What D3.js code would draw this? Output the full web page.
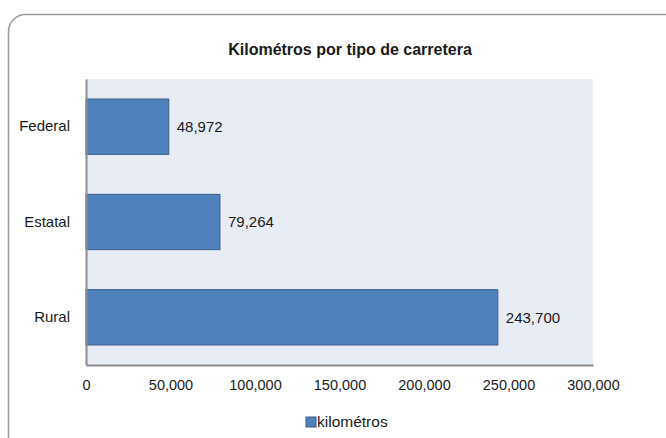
<!DOCTYPE html>
<html>
<head>
<meta charset="utf-8">
<script src="https://cdn.jsdelivr.net/npm/d3@7"></script>
<style>
  body { margin: 0; background: #fff; }
  text { font-family: "Liberation Sans Narrow", "Arial Narrow", "Liberation Sans", sans-serif; fill: #1a1a1a; }
</style>
</head>
<body>
<div class="chart"></div>
<script>
// data
const categories = ["Federal", "Estatal", "Rural"];
const kilometros = [48972, 79264, 243700];
const xTicks = [0, 50000, 100000, 150000, 200000, 250000, 300000];
const seriesName = "kilométros";

const W = 666, H = 438;
const plot = { left: 86, right: 593, top: 79, bottom: 365 };

const svg = d3.select(".chart")
  .append("svg")
  .attr("width", W)
  .attr("height", H);

// rounded frame, cut off on the right and bottom
svg.append("rect")
  .attr("x", 8.5)
  .attr("y", 14.5)
  .attr("width", 720)
  .attr("height", 480)
  .attr("rx", 17)
  .attr("fill", "#fff")
  .attr("stroke", "#9a9a9a")
  .attr("stroke-width", 1.5);

svg.append("text")
  .attr("x", 350)
  .attr("y", 55)
  .attr("text-anchor", "middle")
  .style("font-size", "16px")
  .style("font-weight", "bold")
  .text("Kilométros por tipo de carretera");

// plot area background
svg.append("rect")
  .attr("x", plot.left)
  .attr("y", plot.top)
  .attr("width", plot.right - plot.left)
  .attr("height", plot.bottom - plot.top)
  .attr("fill", "#e8ecf4");

let x = d3.scaleLinear()
  .domain([0, 300000])
  .range([plot.left, plot.right]);

let y = d3.scaleBand()
  .domain(categories)
  .range([plot.top, plot.bottom])
  .paddingInner(0.42)
  .paddingOuter(0.21);

let fmt = d3.format(",");

svg.selectAll(".bar")
  .data(kilometros)
  .enter()
  .append("rect")
  .attr("class", "bar")
  .attr("x", x(0))
  .attr("y", (d, i) => y(categories[i]))
  .attr("width", d => x(d) - x(0))
  .attr("height", y.bandwidth())
  .attr("fill", "#4f81bd")
  .attr("stroke", "#385d8a")
  .attr("stroke-width", 1);

svg.selectAll(".val")
  .data(kilometros)
  .enter()
  .append("text")
  .attr("class", "val")
  .attr("x", d => x(d) + 8)
  .attr("y", (d, i) => y(categories[i]) + y.bandwidth() / 2)
  .attr("dy", "0.35em")
  .style("font-size", "15px")
  .text(d => fmt(d));

// axes
let xAxis = d3.axisBottom(x)
  .tickValues(xTicks)
  .tickSize(0)
  .tickPadding(15)
  .tickFormat(fmt);

let gx = svg.append("g")
  .attr("transform", "translate(0," + plot.bottom + ")")
  .call(xAxis);
gx.select(".domain").attr("stroke", "#8c8c8c").attr("stroke-width", 2);
gx.selectAll("text").style("font-size", "14.5px").attr("fill", "#1a1a1a");

let yAxis = d3.axisLeft(y)
  .tickSize(0)
  .tickPadding(16);

let gy = svg.append("g")
  .attr("transform", "translate(" + plot.left + ",0)")
  .call(yAxis);
gy.select(".domain").attr("stroke", "#8c8c8c").attr("stroke-width", 2);
gy.selectAll("text").style("font-size", "15px").attr("fill", "#1a1a1a");

// legend
let legend = svg.append("g").attr("transform", "translate(306,417)");
legend.append("rect")
  .attr("width", 10)
  .attr("height", 10)
  .attr("fill", "#4f81bd")
  .attr("stroke", "#385d8a");
legend.append("text")
  .attr("x", 11)
  .attr("y", 5)
  .attr("dy", "0.35em")
  .style("font-size", "15.5px")
  .text(seriesName);
</script>
</body>
</html>
